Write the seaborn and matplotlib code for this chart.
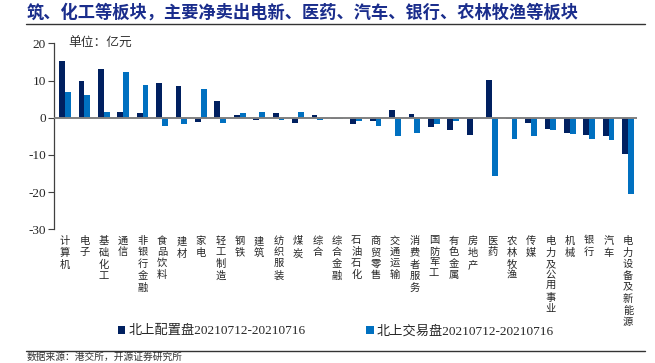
import pandas as pd
import matplotlib.pyplot as plt
import seaborn as sns

# 行业与两组数据（亿元）
categories = ["计算机", "电子", "基础化工", "通信", "非银行金融", "食品饮料", "建材", "家电",
              "轻工制造", "钢铁", "建筑", "纺织服装", "煤炭", "综合", "综合金融", "石油石化",
              "商贸零售", "交通运输", "消费者服务", "国防军工", "有色金属", "房地产", "医药",
              "农林牧渔", "传媒", "电力及公用事业", "机械", "银行", "汽车", "电力设备及新能源"]
alloc = [15.2, 10.0, 13.1, 1.4, 1.2, 9.2, 8.6, -1.2, 4.6, 0.7, -0.6, 1.3, -1.4, 0.7, -0.4,
         -1.6, -0.8, 2.0, 1.0, -2.5, -3.4, -4.7, 10.1, -0.4, -1.4, -3.0, -4.1, -4.7, -4.9, -9.8]
trade = [6.8, 6.1, 1.4, 12.3, 8.7, -2.3, -1.8, 7.7, -1.4, 1.3, 1.5, -0.6, 1.6, -0.6, -0.4,
         -0.8, -2.1, -4.9, -4.1, -1.6, -0.8, -0.4, -15.7, -5.7, -4.9, -3.3, -4.4, -5.7, -5.9, -20.6]
series = ["北上配置盘20210712-20210716", "北上交易盘20210712-20210716"]
y_ticks = [-30, -20, -10, 0, 10, 20]

DARK = "#002060"
LIGHT = "#0070C0"

sns.set_style("white")
plt.rcParams["font.family"] = ["Liberation Serif", "Noto Sans CJK SC", "DejaVu Sans"]
plt.rcParams["axes.unicode_minus"] = False

df = pd.DataFrame({
    "行业": categories * 2,
    "值": alloc + trade,
    "系列": [series[0]] * len(categories) + [series[1]] * len(categories),
})

fig = plt.figure(figsize=(6.55, 3.63), dpi=100)
ax = fig.add_axes([0.0832, 0.3683, 0.9725 - 0.0832, 0.8807 - 0.3683])

sns.barplot(data=df, x="行业", y="值", hue="系列", palette=[DARK, LIGHT],
            width=0.6, saturation=1, ax=ax, edgecolor="none")

ax.axhline(0, color="#808080", linewidth=1.4, zorder=3)
ax.set_xlim(-0.54, len(categories) - 0.54)
ax.set_ylim(-30, 20)
ax.set_yticks(y_ticks)
ax.tick_params(axis="y", direction="out", length=4, width=0.8, color="#404040",
               labelsize=9.5, pad=2, left=True)
ax.set_xticks(range(len(categories)))
ax.set_xticklabels(["\n".join(c) for c in categories], va="top", fontsize=7.4,
                   linespacing=1.25)
ax.tick_params(axis="x", length=0, pad=5.0)
ax.set_xlabel("")
ax.set_ylabel("")
for s in ["top", "right", "bottom"]:
    ax.spines[s].set_visible(False)
ax.spines["left"].set_color("#404040")
ax.spines["left"].set_linewidth(0.9)

ax.text(0.023, 1.0, "单位：亿元", transform=ax.transAxes, fontsize=9.2,
        color="#333333", va="center", ha="left")

sns.move_legend(ax, "center", bbox_to_anchor=(0.513, 0.088),
                bbox_transform=fig.transFigure, ncol=2, frameon=False, title=None,
                fontsize=9.5, handlelength=0.55, handleheight=0.55, handletextpad=0.25,
                columnspacing=4.6)

# 标题与分隔线
fig.text(0.041, 0.965, "筑、化工等板块，主要净卖出电新、医药、汽车、银行、农林牧渔等板块",
         fontsize=12.4, fontweight="bold", color="#1a2d8c", va="center", ha="left")
fig.add_artist(plt.Line2D([0.040, 0.985], [0.934, 0.934], color="#333333",
                          linewidth=1.0, transform=fig.transFigure))
fig.add_artist(plt.Line2D([0.040, 0.985], [0.033, 0.033], color="#333333",
                          linewidth=1.0, transform=fig.transFigure))
fig.text(0.041, 0.003, "数据来源：港交所，开源证券研究所", fontsize=7,
         color="#333333", va="bottom", ha="left")

plt.savefig("out.png", dpi=100)
